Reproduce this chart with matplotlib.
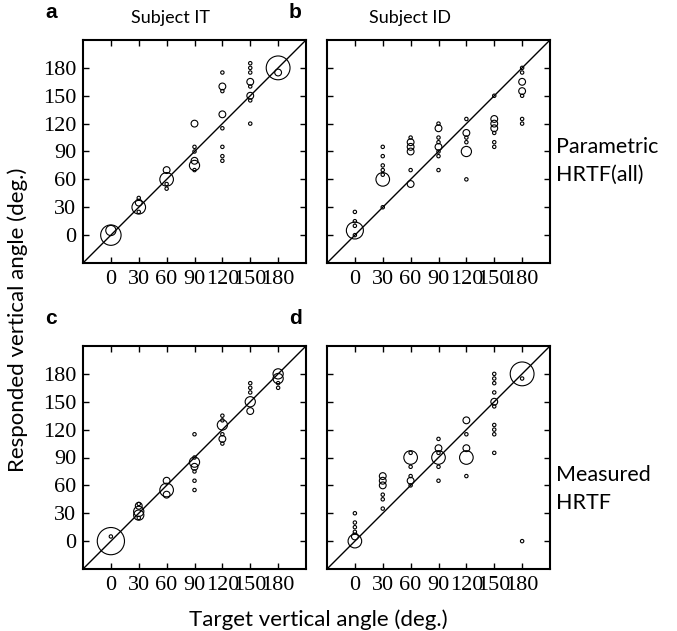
import matplotlib
matplotlib.use("Agg")
import matplotlib.pyplot as plt

# target angle, responded angle, number of responses (circle size)
a_x = [0, 0, 30, 30, 30, 30, 60, 60, 60, 60, 90, 90, 90, 90, 90, 90,
       120, 120, 120, 120, 120, 120, 120, 120,
       150, 150, 150, 150, 150, 150, 150, 150, 180, 180]
a_y = [0, 5, 30, 35, 40, 25, 60, 70, 55, 50, 120, 95, 90, 80, 75, 70,
       175, 160, 155, 130, 115, 95, 85, 80,
       185, 180, 175, 165, 160, 150, 145, 120, 180, 175]
a_n = [6, 3, 4, 2, 1, 1, 4, 2, 1, 1, 2, 1, 1, 2, 3, 1,
       1, 2, 1, 2, 1, 1, 1, 1,
       1, 1, 1, 2, 1, 2, 1, 1, 7, 2]

b_x = [0, 0, 0, 0, 0, 30, 30, 30, 30, 30, 30, 30,
       60, 60, 60, 60, 60, 60, 90, 90, 90, 90, 90, 90, 90, 90,
       120, 120, 120, 120, 120, 120, 150, 150, 150, 150, 150, 150, 150,
       180, 180, 180, 180, 180, 180, 180]
b_y = [5, 0, 10, 15, 25, 60, 65, 70, 75, 85, 95, 30,
       55, 70, 90, 95, 100, 105, 115, 120, 95, 105, 100, 90, 85, 70,
       90, 110, 125, 105, 100, 60, 125, 120, 115, 110, 100, 95, 150,
       180, 175, 165, 155, 150, 125, 120]
b_n = [5, 1, 1, 1, 1, 4, 1, 1, 1, 1, 1, 1,
       2, 1, 2, 2, 2, 1, 2, 1, 2, 1, 1, 1, 1, 1,
       3, 2, 1, 1, 1, 1, 2, 2, 2, 1, 1, 1, 1,
       1, 1, 2, 2, 1, 1, 1]

c_x = [0, 0, 30, 30, 30, 30, 30, 60, 60, 60,
       90, 90, 90, 90, 90, 90, 90, 120, 120, 120, 120, 120, 120,
       150, 150, 150, 150, 150, 180, 180, 180, 180]
c_y = [0, 5, 38, 32, 28, 40, 25, 55, 65, 50,
       115, 85, 90, 80, 75, 65, 55, 125, 135, 130, 115, 110, 105,
       170, 165, 160, 150, 140, 180, 175, 170, 165]
c_n = [8, 1, 2, 3, 3, 1, 1, 4, 2, 2,
       1, 3, 1, 2, 1, 1, 1, 3, 1, 1, 1, 2, 1,
       1, 1, 1, 3, 2, 3, 3, 1, 1]

d_x = [0, 0, 0, 0, 0, 0, 30, 30, 30, 30, 30, 30,
       60, 60, 60, 60, 60, 60, 90, 90, 90, 90, 90, 90,
       120, 120, 120, 120, 120,
       150, 150, 150, 150, 150, 150, 150, 150, 150, 150, 180, 180, 180]
d_y = [0, 5, 10, 15, 20, 30, 70, 65, 60, 50, 45, 35,
       90, 95, 80, 70, 65, 60, 90, 100, 110, 95, 80, 65,
       90, 100, 130, 115, 70,
       180, 175, 170, 160, 150, 145, 125, 120, 115, 95, 180, 175, 0]
d_n = [4, 2, 1, 1, 1, 1, 2, 2, 2, 1, 1, 1,
       4, 1, 1, 1, 2, 1, 4, 2, 1, 1, 1, 1,
       4, 2, 2, 1, 1,
       1, 1, 1, 1, 2, 1, 1, 1, 1, 1, 7, 1, 1]

ticks = [0, 30, 60, 90, 120, 150, 180]
letters = ["a", "b", "c", "d"]
subjects = ["Subject IT", "Subject ID"]
rows = ["Parametric\nHRTF(all)", "Measured\nHRTF"]

SERIF = ["Liberation Serif", "DejaVu Serif"]
SANS = "Lato"
plt.rcParams["font.family"] = SERIF

fig = plt.figure(figsize=(6.77, 6.31), dpi=100)

boxes = [(83, 40), (327, 40), (83, 346), (327, 346)]
size_px = 223

panels = [(a_x, a_y, a_n), (b_x, b_y, b_n), (c_x, c_y, c_n), (d_x, d_y, d_n)]

for i, ((xs, ys, ns), (left, top)) in enumerate(zip(panels, boxes)):
    ax = fig.add_axes([left / 677, 1 - (top + size_px) / 631, size_px / 677, size_px / 631])
    ax.plot([-30, 210], [-30, 210], color="black", lw=1.0, zorder=2)
    ax.scatter(xs, ys, s=[(2.45 * n) ** 2 for n in ns], facecolors="none",
               edgecolors="black", linewidths=0.8, zorder=3)
    ax.set_xlim(-30, 210)
    ax.set_ylim(-30, 210)
    ax.set_xticks(ticks)
    ax.set_yticks(ticks)
    ax.tick_params(direction="in", top=True, right=True, length=4, width=1,
                   labelsize=16, pad=5)
    if i % 2 == 1:
        ax.set_yticklabels([])
    for lbl in ax.get_xticklabels() + ax.get_yticklabels():
        lbl.set_family(SERIF)
    for sp in ax.spines.values():
        sp.set_linewidth(1.5)

for letter, (left, top) in zip(letters, boxes):
    fig.text((left - 38) / 677, 1 - (top - 27) / 631, letter, family="Liberation Sans",
             fontweight="bold", fontsize=15, ha="left", va="center")

fig.text(170 / 677, 1 - 18 / 631, subjects[0], family=SANS, fontsize=13, ha="center", va="center")
fig.text(410 / 677, 1 - 18 / 631, subjects[1], family=SANS, fontsize=13, ha="center", va="center")

fig.text(556 / 677, 1 - 161 / 631, rows[0], family=SANS, fontsize=15.5, ha="left", va="center",
         linespacing=1.5)
fig.text(556 / 677, 1 - 489 / 631, rows[1], family=SANS, fontsize=15.5, ha="left", va="center",
         linespacing=1.5)

fig.text(18 / 677, 1 - 320 / 631, "Responded vertical angle (deg.)", family=SANS, fontsize=16,
         rotation=90, ha="center", va="center")
fig.text(318 / 677, 1 - 620 / 631, "Target vertical angle (deg.)", family=SANS, fontsize=16,
         ha="center", va="center")

fig.savefig("out.png", dpi=100)
